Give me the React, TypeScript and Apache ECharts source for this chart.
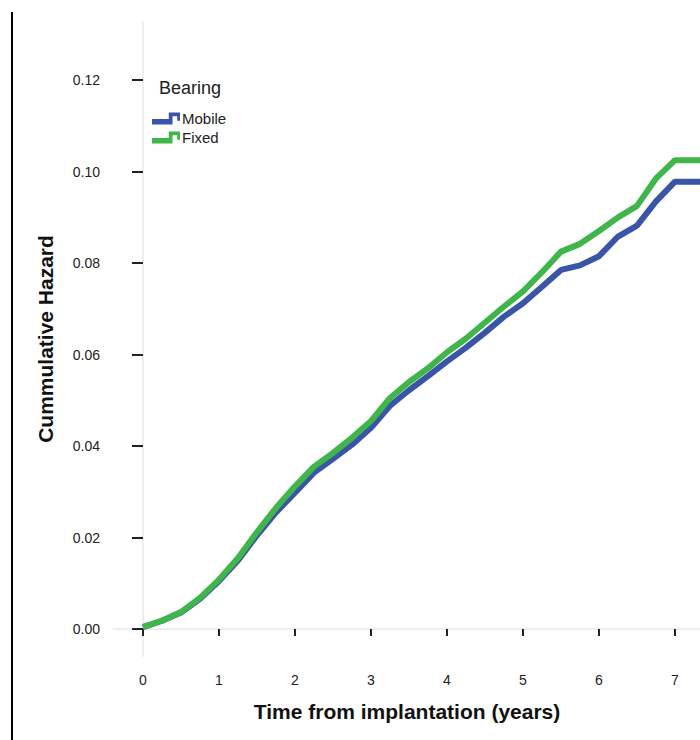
import React, { useEffect, useRef } from "react";
import * as echarts from "echarts";

const times = [0, 0.25, 0.5, 0.75, 1, 1.25, 1.5, 1.75, 2, 2.25, 2.5, 2.75, 3, 3.25, 3.5, 3.75, 4, 4.25, 4.5, 4.75, 5, 5.25, 5.5, 5.75, 6, 6.25, 6.5, 6.75, 7, 7.35];
const mobile = [0.0004, 0.0018, 0.0036, 0.0066, 0.0105, 0.015, 0.0205, 0.0255, 0.0298, 0.0342, 0.0372, 0.0403, 0.044, 0.0488, 0.0522, 0.0553, 0.0585, 0.0615, 0.0648, 0.0683, 0.0712, 0.0748, 0.0785, 0.0795, 0.0815, 0.0858, 0.0882, 0.0935, 0.0978, 0.0978];
const fixed = [0.0004, 0.0018, 0.0037, 0.0068, 0.0108, 0.0155, 0.0212, 0.0265, 0.0312, 0.0355, 0.0385, 0.0418, 0.0455, 0.0505, 0.054, 0.057, 0.0605, 0.0635, 0.067, 0.0705, 0.0738, 0.078, 0.0825, 0.0842, 0.087, 0.09, 0.0925, 0.0985, 0.1025, 0.1025];
const xTicks = [0, 1, 2, 3, 4, 5, 6, 7];
const yTicks = [0, 0.02, 0.04, 0.06, 0.08, 0.1, 0.12];
const seriesNames = ["Mobile", "Fixed"];
const colors = ["#3a55a6", "#40b64a"];

const FONT = "'Liberation Sans', Arial, sans-serif";
const ICON = "path://M0,7L18,7L18,0L30,0L30,9L27,9L27,4L22,4L22,13L0,13Z";

export default function App() {
  const ref = useRef<HTMLDivElement>(null);
  useEffect(() => {
    if (!ref.current) return;
    const chart = echarts.init(ref.current, null, { renderer: "svg" });
    const xMin = -0.3816;
    const xMax = 7.329;
    const yMin = -0.0059;
    const yMax = 0.1327;
    chart.setOption({
      animation: false,
      backgroundColor: "#ffffff",
      textStyle: { fontFamily: FONT },
      grid: { left: 114, right: 0, top: 22, bottom: 84, containLabel: false },
      legend: {
        orient: "vertical",
        left: 152,
        top: 111,
        padding: 0,
        itemGap: 4,
        itemWidth: 28,
        itemHeight: 14,
        icon: ICON,
        data: seriesNames,
        textStyle: { fontSize: 15, color: "#222", fontFamily: FONT, padding: [0, 0, 0, -3] },
      },
      graphic: [
        { type: "line", shape: { x1: 12, y1: 12, x2: 12, y2: 740 }, style: { stroke: "#000", lineWidth: 2 } },
        { type: "text", left: 159, top: 79, style: { text: "Bearing", fontSize: 18, fill: "#222", fontFamily: FONT } },
      ],
      xAxis: [
        {
          type: "value",
          min: xMin,
          max: xMax,
          position: "bottom",
          offset: 7,
          axisLine: { show: false },
          splitLine: { show: false },
          axisTick: { show: true, length: 7, customValues: xTicks, lineStyle: { color: "#222", width: 2 } },
          axisLabel: { customValues: xTicks, margin: 10, fontSize: 14, color: "#222", fontFamily: FONT },
          name: "Time from implantation (years)",
          nameLocation: "middle",
          nameGap: 38,
          nameTextStyle: { fontSize: 21, fontWeight: "bold", color: "#111", fontFamily: FONT },
        },
        {
          type: "value",
          min: xMin,
          max: xMax,
          position: "bottom",
          axisLine: { show: true, lineStyle: { color: "#eeeeee", width: 2 } },
          axisTick: { show: false },
          axisLabel: { show: false },
          splitLine: { show: false },
        },
      ],
      yAxis: [
        {
          type: "value",
          min: yMin,
          max: yMax,
          position: "left",
          offset: 2,
          axisLine: { show: false },
          splitLine: { show: false },
          axisTick: { show: true, length: 11, customValues: yTicks, lineStyle: { color: "#222", width: 2 } },
          axisLabel: {
            customValues: yTicks,
            margin: 12,
            fontSize: 14,
            color: "#222",
            fontFamily: FONT,
            formatter: (v: number) => v.toFixed(2),
          },
          name: "Cummulative Hazard",
          nameLocation: "middle",
          nameGap: 56,
          nameTextStyle: { fontSize: 21, fontWeight: "bold", color: "#111", fontFamily: FONT },
        },
        {
          type: "value",
          min: yMin,
          max: yMax,
          position: "left",
          axisLine: { show: true, lineStyle: { color: "#eeeeee", width: 2 } },
          axisTick: { show: false },
          axisLabel: { show: false },
          splitLine: { show: false },
        },
      ],
      series: [
        {
          name: seriesNames[0],
          type: "line",
          showSymbol: false,
          color: colors[0],
          lineStyle: { width: 6, color: colors[0] },
          data: times.map((t, i) => [t, mobile[i]]),
        },
        {
          name: seriesNames[1],
          type: "line",
          showSymbol: false,
          color: colors[1],
          lineStyle: { width: 6, color: colors[1] },
          data: times.map((t, i) => [t, fixed[i]]),
        },
      ],
    });
    return () => chart.dispose();
  }, []);
  return (
    <div
      ref={ref}
      style={{ position: "absolute", left: 0, top: 0, width: 700, height: 740 }}
    />
  );
}
